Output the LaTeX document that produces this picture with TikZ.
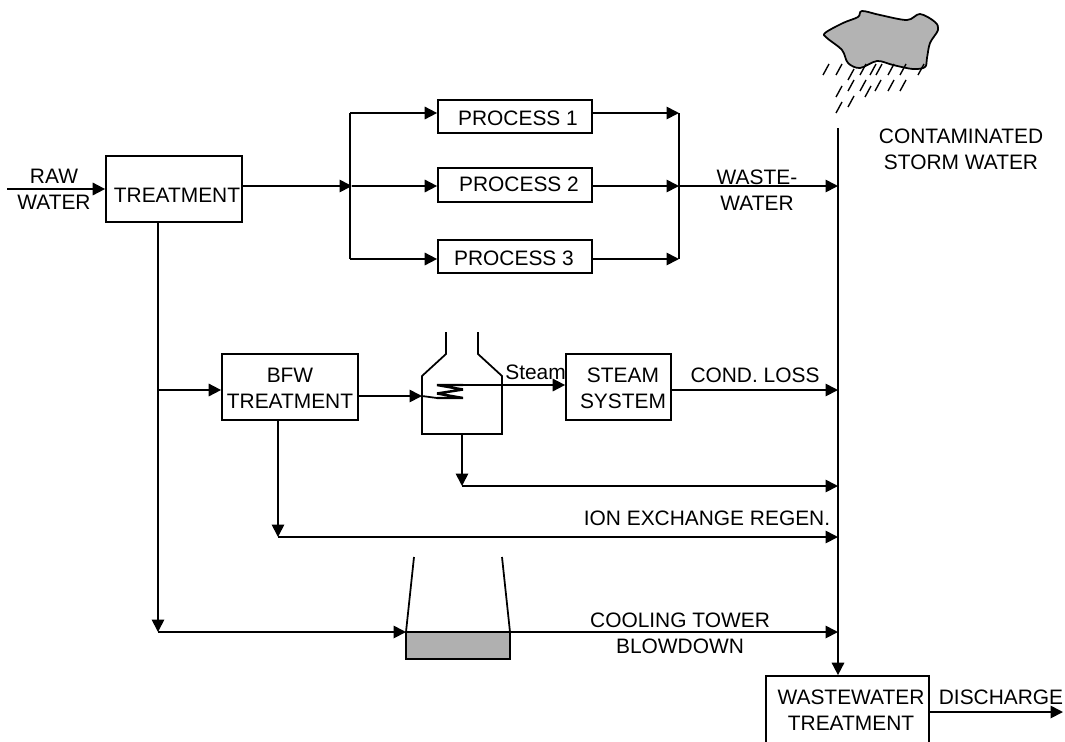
\documentclass[tikz,border=0pt]{standalone}
\usepackage{fontspec}
\setmainfont{Liberation Sans}
\usetikzlibrary{arrows.meta,positioning}
\definecolor{cCloud}{RGB}{179,179,179}
\definecolor{cBasin}{RGB}{176,176,176}
\tikzset{
  wire/.style={line width=1pt},
  flow/.style={wire,-{Triangle[length=0.25cm,width=0.25cm]}},
  blockbox/.style={draw,wire,minimum width=#1,inner sep=0pt},
  txt/.style={font=\fontsize{11.9}{14.7}\selectfont,align=center,inner sep=0pt},
  rain/.style={line width=0.8pt}
}
\begin{document}
\begin{tikzpicture}[x=0.02cm,y=-0.02cm]
  \clip (0,0) rectangle (1065,741);
  % boxes
  \node[blockbox=2.72cm,minimum height=1.32cm] (treat) at (174,189) {};
  \node[blockbox=3.08cm,minimum height=0.66cm] (proca) at (515,116.5) {};
  \node[blockbox=3.08cm,minimum height=0.68cm] (procb) at (515,185) {};
  \node[blockbox=3.08cm,minimum height=0.66cm] (procc) at (515,256.5) {};
  \node[blockbox=2.72cm,minimum height=1.32cm] (bfw) at (290,387) {};
  \node[blockbox=2.1cm,minimum height=1.32cm] (steam) at (618.5,387) {};
  \node[blockbox=3.26cm,minimum height=1.4cm] (wwt) at (847.5,711) {};
  % box texts
  \node[txt] (treattxt) at (177,195) {TREATMENT};
  \node[txt] (procatxt) at (518,118) {PROCESS 1};
  \node[txt] (procbtxt) at (519,184) {PROCESS 2};
  \node[txt] (procctxt) at (514,258) {PROCESS 3};
  \node[txt] (bfwtxt) at (290,388.5) {BFW\\TREATMENT};
  \node[txt] (steamtxt) at (623,388) {STEAM\\SYSTEM};
  \node[txt] (wwttxt) at (851,710) {WASTEWATER\\TREATMENT};
  % flow labels
  \node[txt] (rawtxt) at (54,189.5) {RAW\\WATER};
  \node[txt] (wastetxt) at (757,190) {WASTE-\\WATER};
  \node[txt] (stormtxt) at (961,149.5) {CONTAMINATED\\STORM WATER};
  \node[txt,anchor=west] (steamlbl) at (505,372) {Steam};
  \node[txt] (condtxt) at (755,375) {COND. LOSS};
  \node[txt] (iontxt) at (707,518) {ION EXCHANGE REGEN.};
  \node[txt] (cooltxt) at (680,633.5) {COOLING TOWER\\BLOWDOWN};
  \node[txt] (distxt) at (1001,697) {DISCHARGE};
  % cloud and rain
  \filldraw[wire,fill=cCloud] plot[smooth cycle,tension=0.55] coordinates {(825,33) (843,23) (858,17)
    (862,11) (880,15) (907,20) (920,14) (935,22) (938,30) (930,43) (927,58) (925,67) (913,69)
    (893,65) (877,61) (860,68) (848,63) (842,50) (827,38)};
  \foreach \x/\y in {823/75,836/75,848/80,860/75,870/75,876/75,888/75,900/75,918/75,
    836/97,848/91,860/91,865/97,875/91,888/91,900/91,836/113,848/107}
    \draw[rain] (\x,\y) -- ++(6,-11);
  % junctions
  \coordinate (treatout) at (242,186);
  \coordinate (busa) at (350,113);
  \coordinate (busb) at (352,186);
  \coordinate (busc) at (350,259);
  \coordinate (mergea) at (679,113);
  \coordinate (mergeb) at (679,186);
  \coordinate (mergec) at (679,259);
  \coordinate (maintop) at (838,128);
  \coordinate (rawin) at (7,189);
  \coordinate (drop) at (158,222);
  \coordinate (dropa) at (158,390);
  \coordinate (dropb) at (158,632);
  \coordinate (bfwdrop) at (278,537);
  \coordinate (disout) at (1063,712);
  % top part
  \draw[flow] (rawin) -- (rawin -| treat.west);
  \draw[flow] (treatout) -- (busb);
  \draw[wire] (busa) -- (busc);
  \draw[flow] (busa) -- (busa -| proca.west);
  \draw[flow] (busb) -- (busb -| procb.west);
  \draw[flow] (busc) -- (busc -| procc.west);
  \draw[flow] (busa -| proca.east) -- (mergea);
  \draw[flow] (busb -| procb.east) -- (mergeb);
  \draw[flow] (busc -| procc.east) -- (mergec);
  \draw[wire] (mergea) -- (mergec);
  \draw[flow] (mergeb) -- (mergeb -| maintop);
  \draw[flow] (maintop) -- (maintop |- wwt.north);
  % boiler
  \coordinate (boilin) at (422,396);
  \coordinate (coilin) at (437,398);
  \coordinate (coilout) at (463,385);
  \coordinate (boilout) at (462,434);
  \coordinate (blowa) at (462,486);
  \draw[wire] (446,332) -- (446,354) -- (422,376) -- (422,434) -- (502,434) -- (502,376) -- (478,354) -- (478,332);
  \draw[line width=1.4pt,line join=bevel] (coilout) -- (437,385) -- (463,389.5) -- (437,393.5) -- (463,398) -- (coilin);
  \draw[wire] (boilin) -- (coilin);
  \draw[flow] (dropa) -- (dropa -| bfw.west);
  \draw[flow] (bfw.east |- boilin) -- (boilin);
  \draw[flow] (coilout) -- (coilout -| steam.west);
  \draw[flow] (steam.east |- dropa) -- (dropa -| maintop);
  \draw[flow] (boilout) -- (blowa);
  \draw[flow] (blowa) -- (blowa -| maintop);
  \draw[flow] (bfw.south -| bfwdrop) -- (bfwdrop);
  \draw[flow] (bfwdrop) -- (bfwdrop -| maintop);
  % cooling tower
  \coordinate (towerl) at (406,632);
  \coordinate (towerr) at (510,632);
  \filldraw[wire,fill=cBasin] (towerl) rectangle (510,659);
  \draw[wire] (414,557) -- (towerl);
  \draw[wire] (502,557) -- (towerr);
  \draw[flow] (drop) -- (dropb);
  \draw[flow] (dropb) -- (towerl);
  \draw[flow] (towerr) -- (towerr -| maintop);
  % discharge
  \draw[flow] (wwt.east |- disout) -- (disout);
\end{tikzpicture}
\end{document}
